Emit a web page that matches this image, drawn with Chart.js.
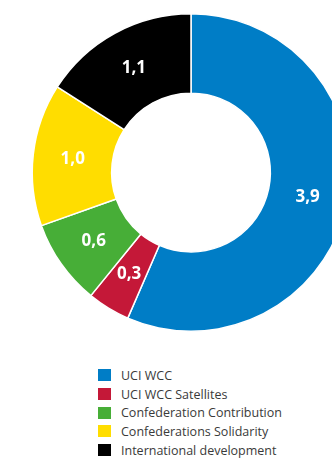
<!DOCTYPE html>
<html>
<head>
<meta charset="utf-8">
<script src="https://cdn.jsdelivr.net/npm/chart.js@4/dist/chart.umd.min.js"></script>
<style>
  html, body { margin: 0; padding: 0; background: #fff; overflow: hidden; width: 332px; height: 459px; }
  #wrap { position: absolute; left: 0; top: 0; width: 382px; height: 346px; }
  #legend { position: absolute; left: 98px; top: 366px; font-family: "Open Sans", sans-serif; font-size: 12.5px; color: #3a3a3a; }
  .item { display: flex; align-items: center; height: 18.7px; }
  .box { width: 13px; height: 12px; margin-right: 10px; }
</style>
</head>
<body>
<div id="wrap"><canvas id="c"></canvas></div>
<div id="legend"></div>
<script>
const categories = ["UCI WCC", "UCI WCC Satellites", "Confederation Contribution", "Confederations Solidarity", "International development"];
const values = [3.9, 0.3, 0.6, 1.0, 1.1];
const colors = ["#007DC6", "#C41838", "#47AE37", "#FFDD00", "#000000"];

const fmt = v => v.toFixed(1).replace(".", ",");

// writes each slice's value in the middle of its ring segment
const sliceLabels = {
  id: "sliceLabels",
  afterDatasetsDraw(chart) {
    const ctx = chart.ctx;
    const meta = chart.getDatasetMeta(0);
    ctx.save();
    ctx.fillStyle = "#ffffff";
    ctx.font = "bold 17px 'Open Sans', sans-serif";
    ctx.textAlign = "center";
    ctx.textBaseline = "middle";
    meta.data.forEach((arc, i) => {
      const p = arc.getCenterPoint();
      ctx.fillText(fmt(chart.data.datasets[0].data[i]), p.x, p.y);
    });
    ctx.restore();
  }
};

new Chart(document.getElementById("c"), {
  type: "doughnut",
  data: {
    labels: categories,
    datasets: [{
      data: values,
      backgroundColor: colors,
      borderColor: "#ffffff",
      borderWidth: 1.5,
      hoverOffset: 0
    }]
  },
  options: {
    responsive: true,
    maintainAspectRatio: false,
    animation: false,
    cutout: "50%",
    layout: { padding: { top: 13, bottom: 14, left: 0, right: 0 } },
    plugins: {
      legend: { display: false },
      tooltip: { enabled: false }
    }
  },
  plugins: [sliceLabels]
});

const legend = document.getElementById("legend");
categories.forEach((name, i) => {
  const row = document.createElement("div");
  row.className = "item";
  const box = document.createElement("span");
  box.className = "box";
  box.style.background = colors[i];
  const txt = document.createElement("span");
  txt.textContent = name;
  row.appendChild(box);
  row.appendChild(txt);
  legend.appendChild(row);
});
</script>
</body>
</html>
